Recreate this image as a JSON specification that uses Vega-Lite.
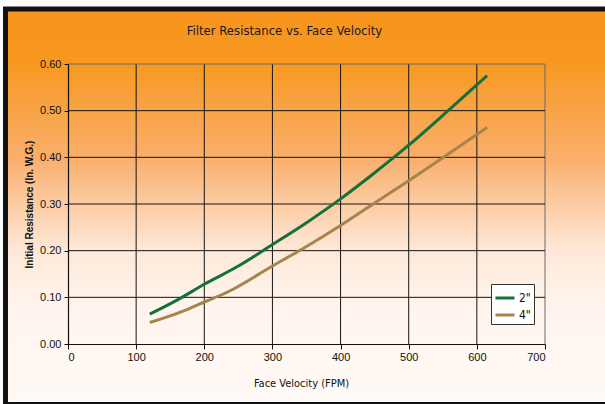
{
  "$schema": "https://vega.github.io/schema/vega-lite/v6.json",
  "width": 477,
  "height": 280,
  "autosize": {"type": "none"},
  "padding": {"left": 68, "top": 64, "right": 60, "bottom": 60},
  "background": "white",
  "title": {
    "text": "Filter Resistance vs. Face Velocity",
    "font": "Liberation Sans Narrow, DejaVu Sans Condensed, sans-serif",
    "fontSize": 13,
    "fontWeight": "normal",
    "color": "#1a1a1a",
    "anchor": "middle",
    "frame": "group",
    "dx": -22,
    "offset": -31
  },
  "datasets": {
    "curves": [
      {"velocity": 120, "resistance": 0.064, "filter": "2\""},
      {"velocity": 160, "resistance": 0.094, "filter": "2\""},
      {"velocity": 200, "resistance": 0.128, "filter": "2\""},
      {"velocity": 250, "resistance": 0.167, "filter": "2\""},
      {"velocity": 300, "resistance": 0.213, "filter": "2\""},
      {"velocity": 350, "resistance": 0.260, "filter": "2\""},
      {"velocity": 400, "resistance": 0.311, "filter": "2\""},
      {"velocity": 450, "resistance": 0.367, "filter": "2\""},
      {"velocity": 500, "resistance": 0.426, "filter": "2\""},
      {"velocity": 557, "resistance": 0.499, "filter": "2\""},
      {"velocity": 615, "resistance": 0.575, "filter": "2\""},
      {"velocity": 120, "resistance": 0.046, "filter": "4\""},
      {"velocity": 170, "resistance": 0.071, "filter": "4\""},
      {"velocity": 200, "resistance": 0.090, "filter": "4\""},
      {"velocity": 235, "resistance": 0.112, "filter": "4\""},
      {"velocity": 300, "resistance": 0.167, "filter": "4\""},
      {"velocity": 350, "resistance": 0.209, "filter": "4\""},
      {"velocity": 400, "resistance": 0.254, "filter": "4\""},
      {"velocity": 450, "resistance": 0.302, "filter": "4\""},
      {"velocity": 500, "resistance": 0.350, "filter": "4\""},
      {"velocity": 550, "resistance": 0.399, "filter": "4\""},
      {"velocity": 615, "resistance": 0.464, "filter": "4\""}
    ],
    "xgrid": [
      {"v": 100}, {"v": 200}, {"v": 300}, {"v": 400}, {"v": 500}, {"v": 600}, {"v": 700}
    ],
    "ygrid": [
      {"v": 0.1}, {"v": 0.2}, {"v": 0.3}, {"v": 0.4}, {"v": 0.5}, {"v": 0.6}
    ]
  },
  "layer": [
    {
      "data": {"values": [{}]},
      "mark": {
        "type": "rect",
        "fill": {
          "gradient": "linear",
          "x1": 0, "y1": 0, "x2": 0, "y2": 1,
          "stops": [
            {"offset": 0, "color": "#F7941D"},
            {"offset": 0.13, "color": "#F7981F"},
            {"offset": 0.375, "color": "#F9AE6A"},
            {"offset": 0.49, "color": "#FCCBA2"},
            {"offset": 0.61, "color": "#FEE8D8"},
            {"offset": 0.74, "color": "#FFF4EC"},
            {"offset": 1, "color": "#FFFAF7"}
          ]
        },
        "stroke": "#111",
        "strokeWidth": 5
      },
      "encoding": {
        "x": {"datum": -91.7, "type": "quantitative", "scale": {"domain": [0, 700], "nice": false}},
        "x2": {"datum": 800},
        "y": {"datum": 0.7178, "type": "quantitative", "scale": {"domain": [0, 0.6], "nice": false}},
        "y2": {"datum": -0.1296}
      }
    },
    {
      "data": {"name": "xgrid"},
      "mark": {"type": "rule", "strokeWidth": 1},
      "encoding": {
        "x": {"field": "v", "type": "quantitative", "scale": {"domain": [0, 700], "nice": false}},
        "color": {"condition": {"test": "datum.v == 700", "value": "#6a6a6a"}, "value": "#151515"}
      }
    },
    {
      "data": {"name": "ygrid"},
      "mark": {"type": "rule", "strokeWidth": 1},
      "encoding": {
        "y": {"field": "v", "type": "quantitative", "scale": {"domain": [0, 0.6], "nice": false}},
        "color": {"condition": {"test": "datum.v == 0.6", "value": "#6a6a6a"}, "value": "#151515"}
      }
    },
    {
      "data": {"name": "curves"},
      "mark": {"type": "line", "strokeWidth": 3, "interpolate": "monotone"},
      "encoding": {
        "x": {
          "field": "velocity",
          "type": "quantitative",
          "scale": {"domain": [0, 700], "nice": false},
          "axis": {
            "title": "Face Velocity (FPM)",
            "values": [0, 100, 200, 300, 400, 500, 600, 700],
            "grid": false,
            "tickSize": 5,
            "labelPadding": 2,
            "titlePadding": 15,
            "titleX": 233,
            "zindex": 1
          }
        },
        "y": {
          "field": "resistance",
          "type": "quantitative",
          "scale": {"domain": [0, 0.6], "nice": false},
          "axis": {
            "title": "Initial Resistance (In. W.G.)",
            "values": [0, 0.1, 0.2, 0.3, 0.4, 0.5, 0.6],
            "format": ".2f",
            "grid": false,
            "tickSize": 4,
            "labelPadding": 3,
            "titlePadding": 5,
            "titleFont": "Liberation Sans, Arial, sans-serif",
            "titleFontWeight": "bold",
            "titleFontSize": 10,
            "zindex": 1
          }
        },
        "color": {
          "field": "filter",
          "type": "nominal",
          "scale": {"domain": ["2\"", "4\""], "range": ["#15703A", "#A5854C"]},
          "legend": {
            "title": null,
            "orient": "none",
            "legendX": 423,
            "legendY": 220,
            "fillColor": "white",
            "strokeColor": "#333",
            "padding": 3,
            "symbolType": "stroke",
            "symbolSize": 361,
            "symbolStrokeWidth": 3,
            "rowPadding": -1,
            "labelOffset": 3,
            "labelFont": "Liberation Sans Narrow, DejaVu Sans Condensed, sans-serif",
            "labelFontSize": 12,
            "labelColor": "#111"
          }
        }
      }
    }
  ],
  "config": {
    "view": {"stroke": null},
    "axis": {
      "domainColor": "#111",
      "domainWidth": 1.2,
      "tickColor": "#111",
      "labelFont": "Liberation Sans, Arial, sans-serif",
      "labelFontSize": 11,
      "labelColor": "#111",
      "titleFont": "Liberation Sans Narrow, DejaVu Sans Condensed, sans-serif",
      "titleFontSize": 11,
      "titleFontWeight": "normal",
      "titleColor": "#111"
    }
  }
}
